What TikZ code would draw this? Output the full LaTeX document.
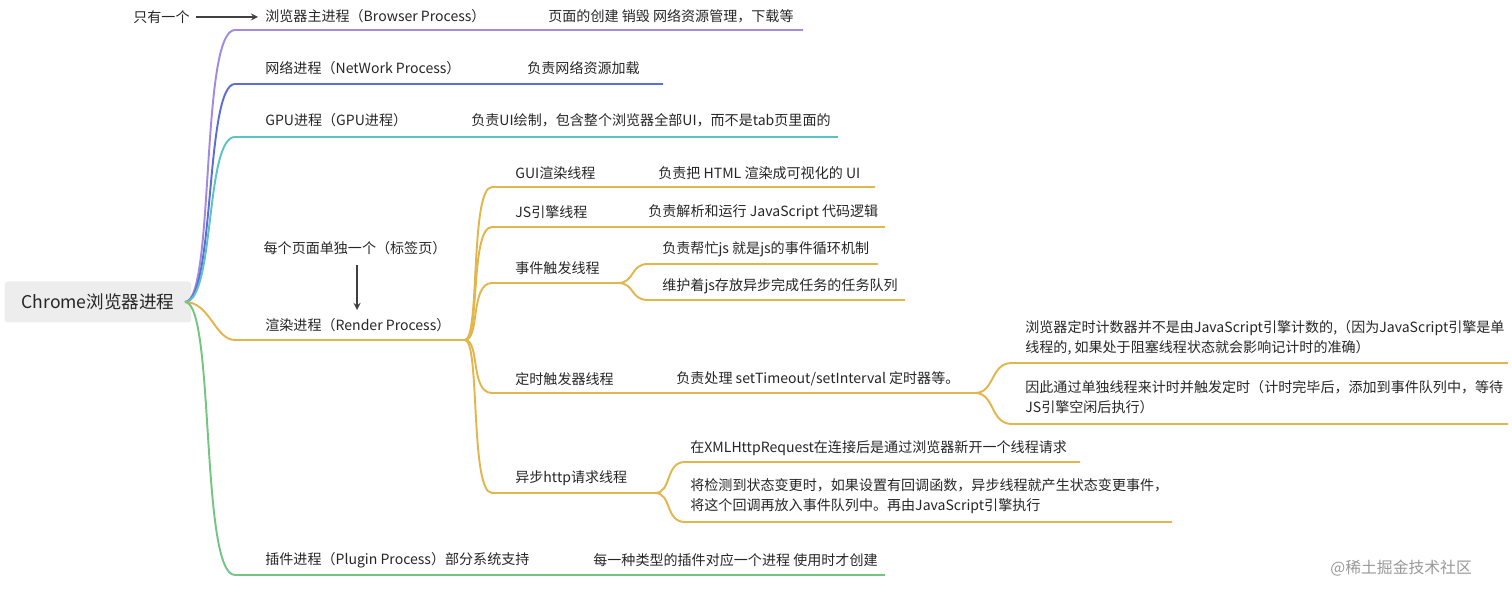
\documentclass[tikz,border=0pt]{standalone}
\usepackage{fontspec}
\setmainfont{Noto Sans CJK SC}
\usetikzlibrary{arrows}
\definecolor{cpurple}{HTML}{A18AE0}
\definecolor{cblue}{HTML}{5B6ED6}
\definecolor{cteal}{HTML}{5CC4C0}
\definecolor{cgold}{HTML}{E2B64C}
\definecolor{cgreen}{HTML}{74C482}
\tikzstyle{txt} = [anchor=west, inner sep=0pt, font=\fontsize{8}{11.5}\selectfont, text=black!85]
\tikzstyle{rootbox} = [rectangle, rounded corners=2pt, fill=black!7, minimum width=3.74cm, minimum height=0.82cm, font=\fontsize{10}{12}\selectfont, text=black!85]
\tikzstyle{branch} = [line width=1.1pt]
\tikzstyle{arrow} = [thick, ->, >=stealth, black!75]

\begin{document}
\begin{tikzpicture}[x=0.02cm, y=-0.02cm]
    \useasboundingbox (0,0) rectangle (1512,597);

    \node (root) [rootbox] at (98,302) {Chrome浏览器进程};
    \coordinate (r) at (185,302);

    % main branches
    \node (once) [txt] at (133,17) {只有一个};
    \node (browser) [txt] at (265,16) {浏览器主进程（Browser Process）};
    \node (browserd) [txt] at (548,16) {页面的创建 销毁 网络资源管理，下载等};
    \draw[arrow] (once.east) ++(6,0) coordinate (oa) -- (258,17) coordinate (ob);
    \draw[branch, cpurple] (r) .. controls (215,302) and (200,30) .. (235,30) -- (803,30);

    \node (net) [txt] at (265,68) {网络进程（NetWork Process）};
    \node (netd) [txt] at (527,68) {负责网络资源加载};
    \draw[branch, cblue] (r) .. controls (215,302) and (205,84) .. (235,84) -- (663,84);

    \node (gpu) [txt] at (265,120) {GPU进程（GPU进程）};
    \node (gpud) [txt] at (471,120) {负责UI绘制，包含整个浏览器全部UI，而不是tab页里面的};
    \draw[branch, cteal] (r) .. controls (215,302) and (205,137) .. (235,137) -- (838,137);

    \node (each) [txt, anchor=center] at (355,248) {每个页面单独一个（标签页）};
    \node (render) [txt] at (265,325) {渲染进程（Render Process）};
    \coordinate (ea) at (357,265);
    \coordinate (eb) at (357,310);
    \draw[arrow] (ea) -- (eb);
    \draw[branch, cgold] (r) .. controls (210,302) and (215,340) .. (235,340) -- (465,340) coordinate (rs);

    \node (plugin) [txt] at (265,560) {插件进程（Plugin Process）部分系统支持};
    \node (plugind) [txt] at (593,560) {每一种类型的插件对应一个进程 使用时才创建};
    \draw[branch, cgreen] (r) .. controls (215,302) and (200,575) .. (235,575) -- (885,575);

    % render threads
    \node (gui) [txt] at (515,173) {GUI渲染线程};
    \node (guid) [txt] at (658,173) {负责把 HTML 渲染成可视化的 UI};
    \draw[branch, cgold] (rs) .. controls (480,340) and (470,187) .. (492,187) -- (875,187);

    \node (js) [txt] at (515,212) {JS引擎线程};
    \node (jsd) [txt] at (648,212) {负责解析和运行 JavaScript 代码逻辑};
    \draw[branch, cgold] (rs) .. controls (480,340) and (470,227) .. (492,227) -- (885,227);

    \node (event) [txt] at (515,268) {事件触发线程};
    \draw[branch, cgold] (rs) .. controls (480,340) and (470,283) .. (492,283) -- (618,283) coordinate (es);
    \node (event1) [txt] at (662,249) {负责帮忙js 就是js的事件循环机制};
    \node (event2) [txt] at (662,286) {维护着js存放异步完成任务的任务队列};
    \draw[branch, cgold] (es) .. controls (635,283) and (630,264) .. (648,264) -- (878,264);
    \draw[branch, cgold] (es) .. controls (635,283) and (630,300) .. (648,300) -- (905,300);

    \node (timer) [txt] at (515,379) {定时触发器线程};
    \node (timerd) [txt] at (676,379) {负责处理 setTimeout/setInterval 定时器等。};
    \draw[branch, cgold] (rs) .. controls (480,340) and (470,393) .. (492,393) -- (975,393) coordinate (ts);
    \node (timer1) [txt, align=left] at (1025,338) {浏览器定时计数器并不是由JavaScript引擎计数的,（因为JavaScript引擎是单\\线程的, 如果处于阻塞线程状态就会影响记计时的准确）};
    \node (timer2) [txt, align=left] at (1025,397) {因此通过单独线程来计时并触发定时（计时完毕后，添加到事件队列中，等待\\JS引擎空闲后执行）};
    \draw[branch, cgold] (ts) .. controls (995,393) and (990,363) .. (1012,363) -- (1508,363);
    \draw[branch, cgold] (ts) .. controls (995,393) and (990,424) .. (1012,424) -- (1508,424);

    \node (http) [txt] at (515,478) {异步http请求线程};
    \draw[branch, cgold] (rs) .. controls (480,340) and (470,493) .. (492,493) -- (655,493) coordinate (hs);
    \node (http1) [txt] at (690,448) {在XMLHttpRequest在连接后是通过浏览器新开一个线程请求};
    \node (http2) [txt, align=left] at (690,496) {将检测到状态变更时，如果设置有回调函数，异步线程就产生状态变更事件，\\将这个回调再放入事件队列中。再由JavaScript引擎执行};
    \draw[branch, cgold] (hs) .. controls (672,493) and (665,462) .. (685,462) -- (1080,462);
    \draw[branch, cgold] (hs) .. controls (672,493) and (665,522) .. (685,522) -- (1172,522);

    \node (mark) [txt, text=black!40, font=\fontsize{9}{11}\selectfont] at (1330,568) {@稀土掘金技术社区};
\end{tikzpicture}
\end{document}
